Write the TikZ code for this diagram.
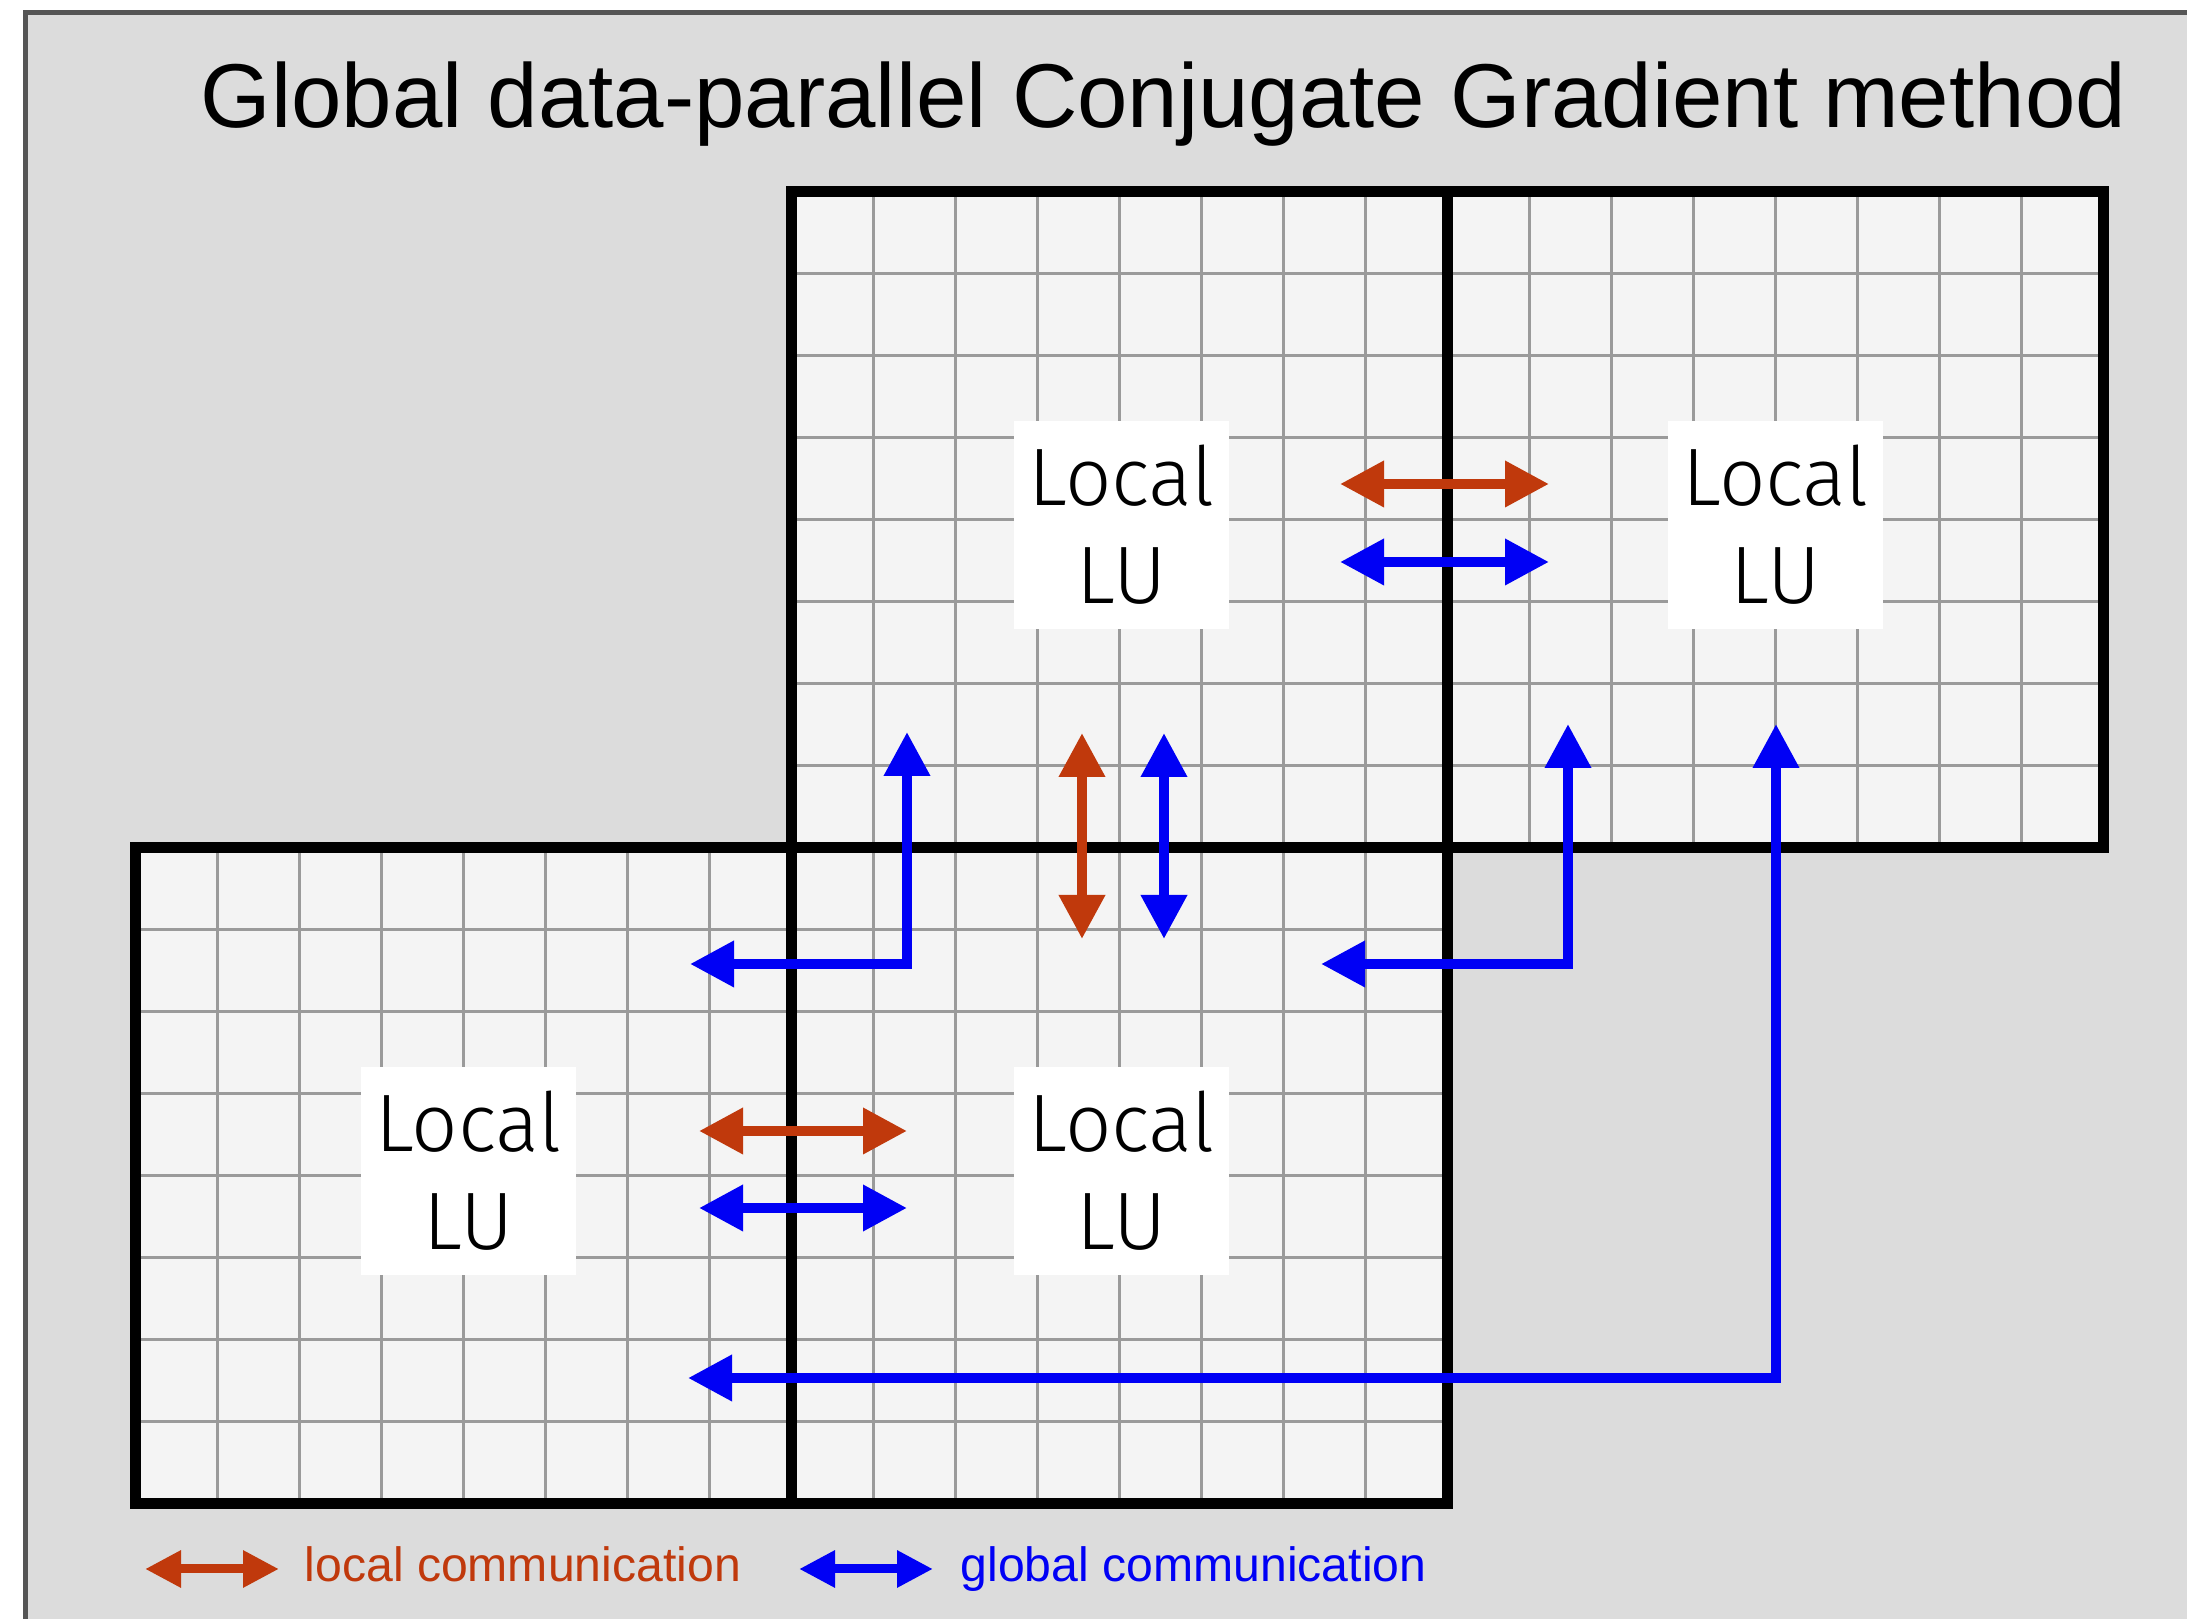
\documentclass[tikz,border=0pt]{standalone}
\usepackage{fontspec}
\setmainfont{Liberation Sans}
\newfontfamily\lufont{Fira Sans Light}
\usetikzlibrary{arrows.meta}
\definecolor{loccol}{HTML}{C0390C}
\definecolor{globcol}{HTML}{0000F5}
\definecolor{bgcol}{HTML}{DCDCDC}
\definecolor{cellcol}{HTML}{F4F4F4}
\definecolor{framecol}{HTML}{555555}
\definecolor{gridcol}{HTML}{9A9A9A}

\begin{document}
\begin{tikzpicture}[
    lubox/.style={fill=white, minimum width=2.15cm, minimum height=2.08cm, inner sep=0pt,
        align=center, font=\lufont\fontsize{23.2}{27.9}\selectfont},
    bigtip/.tip={Triangle[length=0.44cm, width=0.44cm]},
    smalltip/.tip={Triangle[length=0.36cm, width=0.35cm]},
    loccomm/.style={bigtip-bigtip, line width=0.1cm, loccol},
    globcomm/.style={bigtip-bigtip, line width=0.1cm, globcol},
    thingrid/.style={gridcol, line width=0.03cm},
    thickgrid/.style={black, line width=0.11cm},
    legtext/.style={anchor=base west, inner sep=0pt, font=\fontsize{13.7}{16}\selectfont}
]
    \useasboundingbox (0,0) rectangle (21.87,16.19);
    \fill[white] (0,0) rectangle (21.87,16.19);

    % Frame
    \fill[bgcol] (0.258,-0.1) rectangle (22,16.065);
    \draw[framecol, line width=0.05cm] (0.258,-0.1) -- (0.258,16.065) -- (22,16.065);

    % Title
    \node[anchor=base, font=\fontsize{25.8}{30}\selectfont] (title) at (11.635,14.91)
        {Global data-parallel Conjugate Gradient method};

    % Grids
    \fill[cellcol] (1.35,1.15) rectangle (14.47,7.71);
    \fill[cellcol] (7.91,7.71) rectangle (21.03,14.27);
    \foreach \i in {1,...,15} {
        \draw[thingrid] ({1.35+0.82*\i},1.15) -- ++(0,6.56);
        \draw[thingrid] ({7.91+0.82*\i},7.71) -- ++(0,6.56);
    }
    \foreach \j in {1,...,7} {
        \draw[thingrid] (1.35,{1.15+0.82*\j}) -- ++(13.12,0);
        \draw[thingrid] (7.91,{7.71+0.82*\j}) -- ++(13.12,0);
    }
    \draw[thickgrid] (1.35,1.15) rectangle (14.47,7.71);
    \draw[thickgrid] (7.91,7.71) rectangle (21.03,14.27);
    \draw[thickgrid] (7.91,1.15) -- (7.91,7.71);
    \draw[thickgrid] (14.47,7.71) -- (14.47,14.27);

    % Local LU blocks
    \node[lubox] (lutl) at (11.215,10.94) {Local\\LU};
    \node[lubox] (lutr) at (17.755,10.94) {Local\\LU};
    \node[lubox] (lubl) at (4.685,4.48) {Local\\LU};
    \node[lubox] (lubr) at (11.215,4.48) {Local\\LU};

    % Arrow ends
    \coordinate (toplocw) at (13.40,11.35);
    \coordinate (toploce) at (15.49,11.35);
    \coordinate (topglobw) at (13.40,10.57);
    \coordinate (topglobe) at (15.49,10.57);
    \coordinate (botlocw) at (6.99,4.88);
    \coordinate (botloce) at (9.07,4.88);
    \coordinate (botglobw) at (6.99,4.11);
    \coordinate (botglobe) at (9.07,4.11);
    \coordinate (midlocn) at (10.82,8.86);
    \coordinate (midlocs) at (10.82,6.80);
    \coordinate (midglobn) at (11.64,8.86);
    \coordinate (midglobs) at (11.64,6.80);
    \coordinate (lefttip) at (6.90,6.55);
    \coordinate (leftup) at (9.07,8.87);
    \coordinate (righttip) at (13.21,6.55);
    \coordinate (rightup) at (15.68,8.95);
    \coordinate (longtip) at (6.88,2.41);
    \coordinate (longup) at (17.76,8.95);

    % Local communication
    \draw[loccomm] (toplocw) -- (toploce);
    \draw[loccomm] (botlocw) -- (botloce);
    \draw[loccomm] (midlocn) -- (midlocs);

    % Global communication
    \draw[globcomm] (topglobw) -- (topglobe);
    \draw[globcomm] (botglobw) -- (botglobe);
    \draw[globcomm] (midglobn) -- (midglobs);
    \draw[globcomm] (lefttip) -| (leftup);
    \draw[globcomm] (righttip) -| (rightup);
    \draw[globcomm] (longtip) -| (longup);

    % Legend
    \coordinate (leglocw) at (1.45,0.50);
    \coordinate (legloce) at (2.79,0.50);
    \coordinate (legglobw) at (7.99,0.50);
    \coordinate (legglobe) at (9.33,0.50);
    \draw[smalltip-smalltip, line width=0.09cm, loccol] (leglocw) -- (legloce);
    \draw[smalltip-smalltip, line width=0.09cm, globcol] (legglobw) -- (legglobe);
    \node[legtext, text=loccol] (loclab) at (3.04,0.37) {local communication};
    \node[legtext, text=globcol] (globlab) at (9.60,0.37) {global communication};
\end{tikzpicture}
\end{document}
